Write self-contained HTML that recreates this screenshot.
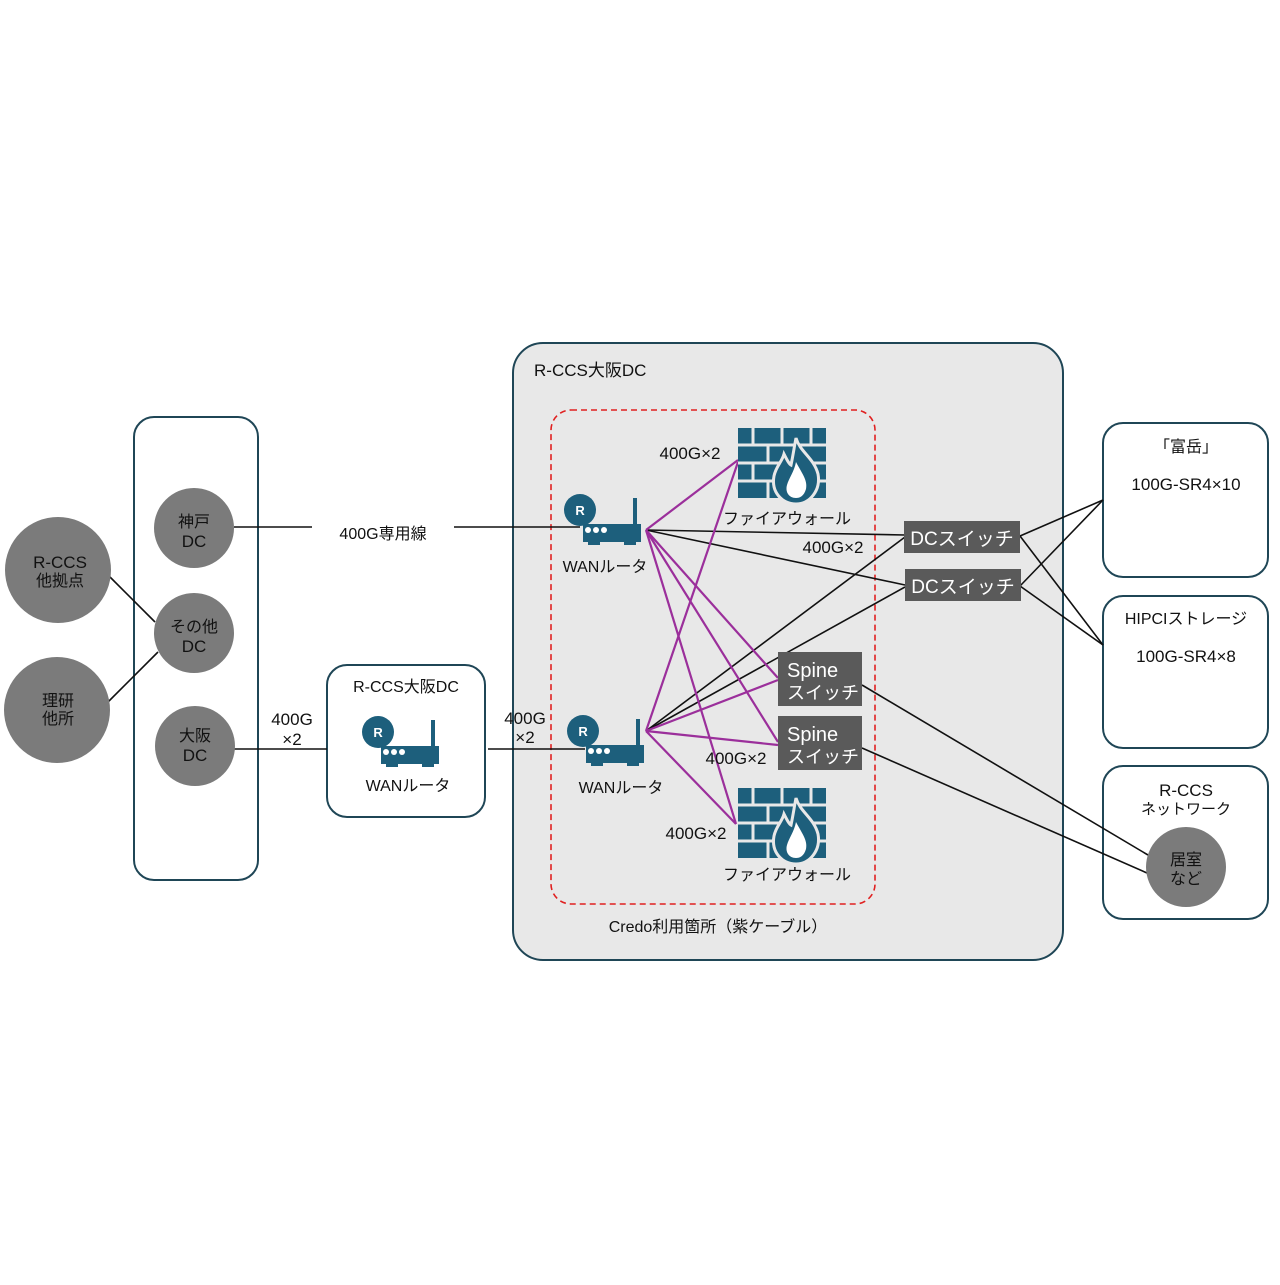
<!DOCTYPE html>
<html><head><meta charset="utf-8"><style>
body{margin:0;background:#fff;}
svg text{font-family:"Liberation Sans","Noto Sans CJK JP",sans-serif;fill:#111;}
</style></head><body>
<svg width="1280" height="1280" viewBox="0 0 1280 1280" xmlns="http://www.w3.org/2000/svg">
<defs>
<g id="router">
  <rect x="3" y="14" width="58" height="18" fill="#1d5f7c"/>
  <rect x="8" y="32" width="12" height="3" fill="#1d5f7c"/>
  <rect x="44" y="32" width="12" height="3" fill="#1d5f7c"/>
  <rect x="53" y="-12" width="4" height="27" fill="#1d5f7c"/>
  <circle cx="0" cy="0" r="16" fill="#1d5f7c"/>
  <text x="0" y="5" font-size="13" font-weight="bold" text-anchor="middle" style="fill:#fff">R</text>
  <circle cx="8" cy="20" r="3" fill="#fff"/><circle cx="16" cy="20" r="3" fill="#fff"/><circle cx="24" cy="20" r="3" fill="#fff"/>
</g>
<g id="fw">
  <rect x="0" y="0" width="88" height="70" fill="#1d5f7c"/>
  <g stroke="#e8e8e8" stroke-width="3">
    <line x1="0" y1="17" x2="88" y2="17"/><line x1="0" y1="35" x2="88" y2="35"/><line x1="0" y1="53" x2="88" y2="53"/>
    <line x1="15" y1="0" x2="15" y2="17"/><line x1="44" y1="0" x2="44" y2="17"/><line x1="73" y1="0" x2="73" y2="17"/>
    <line x1="30" y1="17" x2="30" y2="35"/><line x1="59" y1="17" x2="59" y2="35"/>
    <line x1="15" y1="35" x2="15" y2="53"/><line x1="44" y1="35" x2="44" y2="53"/><line x1="73" y1="35" x2="73" y2="53"/>
    <line x1="30" y1="53" x2="30" y2="70"/><line x1="59" y1="53" x2="59" y2="70"/>
  </g>
  <path d="M58 10 C62 24 76 30 80 46 C83 62 72 76 58 76 C44 76 33 64 36 48 C38 38 44 34 46 26 C49 32 51 36 53 37 C55 28 56 20 58 10Z" fill="#1d5f7c" stroke="#e8e8e8" stroke-width="3"/>
  <path d="M58 34 C63 44 70 52 68 61 C66 68 62 70 58 70 C51 70 47 64 49 57 C51 50 56 44 58 34Z" fill="#fff"/>
</g>
</defs>

<rect x="134" y="417" width="124" height="463" rx="20" fill="#fff" stroke="#1f4656" stroke-width="2"/>
<rect x="513" y="343" width="550" height="617" rx="30" fill="#e8e8e8" stroke="#1f4656" stroke-width="2"/>
<rect x="551" y="410" width="324" height="494" rx="20" fill="none" stroke="#e02020" stroke-width="1.6" stroke-dasharray="6,4"/>
<rect x="327" y="665" width="158" height="152" rx="20" fill="#fff" stroke="#1f4656" stroke-width="2"/>
<rect x="1103" y="423" width="165" height="154" rx="20" fill="#fff" stroke="#1f4656" stroke-width="2"/>
<rect x="1103" y="596" width="165" height="152" rx="20" fill="#fff" stroke="#1f4656" stroke-width="2"/>
<rect x="1103" y="766" width="165" height="153" rx="20" fill="#fff" stroke="#1f4656" stroke-width="2"/>

<g stroke="#111" stroke-width="1.6" fill="none">
  <line x1="110" y1="577" x2="155" y2="622"/>
  <line x1="108" y1="702" x2="158" y2="652"/>
  <line x1="234" y1="527" x2="312" y2="527"/>
  <line x1="454" y1="527" x2="580" y2="527"/>
  <line x1="234" y1="749" x2="327" y2="749"/>
  <line x1="488" y1="749" x2="585" y2="749"/>
  <line x1="646" y1="530" x2="905" y2="535"/>
  <line x1="646" y1="530" x2="905" y2="585"/>
  <line x1="646" y1="731" x2="905" y2="537"/>
  <line x1="646" y1="731" x2="905" y2="587"/>
  <line x1="1020" y1="536" x2="1103" y2="500"/>
  <line x1="1020" y1="536" x2="1103" y2="645"/>
  <line x1="1020" y1="586" x2="1103" y2="500"/>
  <line x1="1020" y1="586" x2="1103" y2="645"/>
  <line x1="862" y1="685" x2="1148" y2="855"/>
  <line x1="862" y1="748" x2="1147" y2="873"/>
</g>
<g stroke="#9b2f9b" stroke-width="2.2" fill="none">
  <line x1="646" y1="530" x2="738" y2="460"/>
  <line x1="646" y1="530" x2="778" y2="678"/>
  <line x1="646" y1="530" x2="778" y2="742"/>
  <line x1="646" y1="530" x2="736" y2="824"/>
  <line x1="646" y1="731" x2="738" y2="462"/>
  <line x1="646" y1="731" x2="778" y2="680"/>
  <line x1="646" y1="731" x2="778" y2="745"/>
  <line x1="646" y1="731" x2="736" y2="824"/>
</g>

<g fill="#7b7b7b">
  <circle cx="58" cy="570" r="53"/>
  <circle cx="57" cy="710" r="53"/>
  <circle cx="194" cy="528" r="40"/>
  <circle cx="194" cy="633" r="40"/>
  <circle cx="195" cy="746" r="40"/>
  <circle cx="1186" cy="867" r="40"/>
</g>
<g font-size="16" text-anchor="middle">
  <text x="60" y="568" font-size="17">R-CCS</text><text x="60" y="586">他拠点</text>
  <text x="58" y="706">理研</text><text x="58" y="724">他所</text>
  <text x="194" y="527">神戸</text><text x="194" y="547" font-size="17">DC</text>
  <text x="194" y="632">その他</text><text x="194" y="652" font-size="17">DC</text>
  <text x="195" y="741">大阪</text><text x="195" y="761" font-size="17">DC</text>
  <text x="1186" y="865">居室</text><text x="1186" y="884">など</text>
</g>

<g font-size="16">
  <text x="383" y="539" text-anchor="middle">400G専用線</text>
  <text x="292" y="725" text-anchor="middle" font-size="17">400G</text>
  <text x="292" y="745" text-anchor="middle" font-size="17">×2</text>
  <text x="525" y="724" text-anchor="middle" font-size="17">400G</text>
  <text x="525" y="743" text-anchor="middle" font-size="17">×2</text>
  <text x="406" y="692" text-anchor="middle">R-CCS大阪DC</text>
  <text x="408" y="791" text-anchor="middle">WANルータ</text>
  <text x="534" y="376" font-size="17">R-CCS大阪DC</text>
  <text x="605" y="572" text-anchor="middle">WANルータ</text>
  <text x="621" y="793" text-anchor="middle">WANルータ</text>
  <text x="787" y="524" text-anchor="middle">ファイアウォール</text>
  <text x="787" y="880" text-anchor="middle">ファイアウォール</text>
  <text x="690" y="459" text-anchor="middle" font-size="17">400G×2</text>
  <text x="833" y="553" text-anchor="middle" font-size="17">400G×2</text>
  <text x="736" y="764" text-anchor="middle" font-size="17">400G×2</text>
  <text x="696" y="839" text-anchor="middle" font-size="17">400G×2</text>
  <text x="718" y="932" text-anchor="middle">Credo利用箇所（紫ケーブル）</text>
  <text x="1186" y="452" text-anchor="middle">「富岳」</text>
  <text x="1186" y="490" text-anchor="middle" font-size="17">100G-SR4×10</text>
  <text x="1186" y="624" text-anchor="middle">HIPCIストレージ</text>
  <text x="1186" y="662" text-anchor="middle" font-size="17">100G-SR4×8</text>
  <text x="1186" y="796" text-anchor="middle" font-size="17">R-CCS</text>
  <text x="1186" y="814" text-anchor="middle" font-size="15">ネットワーク</text>
</g>

<rect x="904" y="521" width="116" height="32" fill="#5a5a5a"/>
<text x="962" y="545" text-anchor="middle" font-size="19" style="fill:#fff">DCスイッチ</text>
<rect x="905" y="569" width="116" height="32" fill="#5a5a5a"/>
<text x="963" y="593" text-anchor="middle" font-size="19" style="fill:#fff">DCスイッチ</text>
<rect x="778" y="652" width="84" height="54" fill="#5a5a5a"/>
<text x="787" y="677" font-size="20" style="fill:#fff">Spine</text>
<text x="787" y="699" font-size="18" style="fill:#fff">スイッチ</text>
<rect x="778" y="716" width="84" height="54" fill="#5a5a5a"/>
<text x="787" y="741" font-size="20" style="fill:#fff">Spine</text>
<text x="787" y="763" font-size="18" style="fill:#fff">スイッチ</text>

<use href="#router" x="378" y="732"/>
<use href="#router" x="580" y="510"/>
<use href="#router" x="583" y="731"/>
<use href="#fw" x="738" y="428"/>
<use href="#fw" x="738" y="788"/>
</svg>
</body></html>
